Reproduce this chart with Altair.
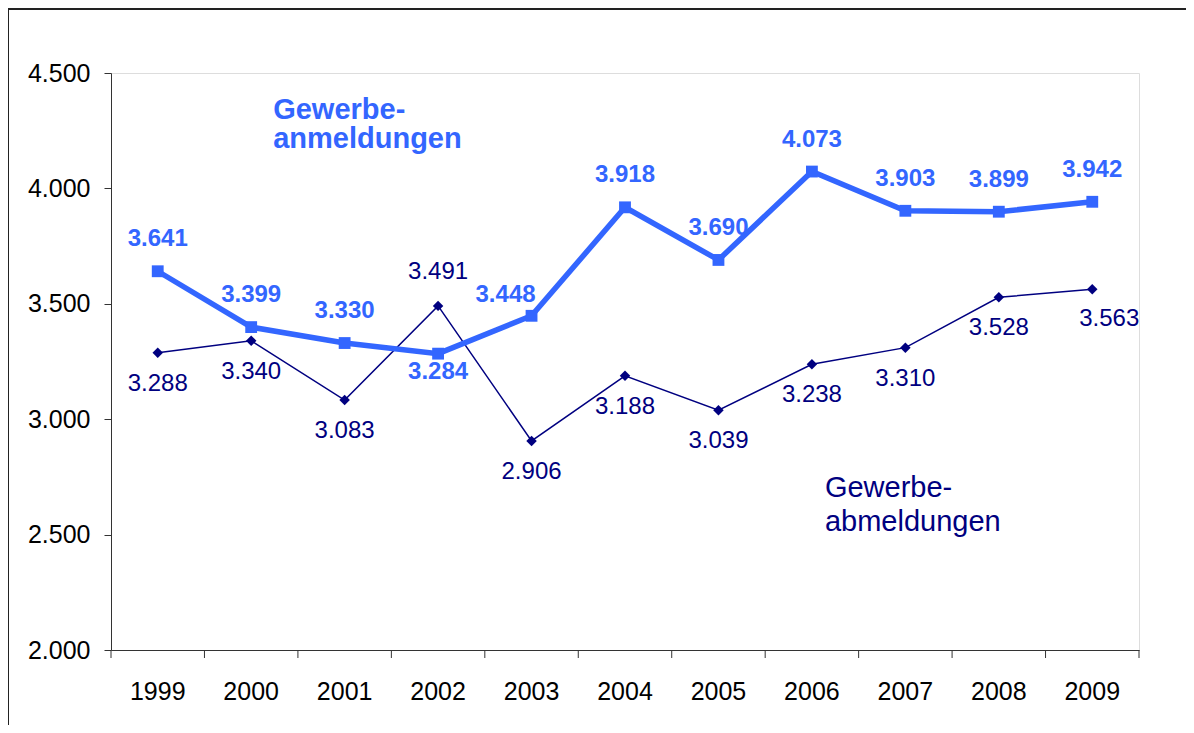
import altair as alt
import pandas as pd

# ---- data ----
years = [str(y) for y in range(1999, 2010)]
anmeldungen = [3641, 3399, 3330, 3284, 3448, 3918, 3690, 4073, 3903, 3899, 3942]
abmeldungen = [3288, 3340, 3083, 3491, 2906, 3188, 3039, 3238, 3310, 3528, 3563]
y_ticks = [2000, 2500, 3000, 3500, 4000, 4500]
label_an = "Gewerbe-\nanmeldungen"
label_ab = "Gewerbe-\nabmeldungen"

BLUE = "#3366FF"
NAVY = "#000080"
AXIS = "#333333"
FONT = "Liberation Sans"
W, H = 1028, 577


def de(v):
    return f"{v:,}".replace(",", ".")


df = pd.DataFrame({"Jahr": years, "An": anmeldungen, "Ab": abmeldungen})
df["An_lbl"] = [de(v) for v in anmeldungen]
df["Ab_lbl"] = [de(v) for v in abmeldungen]

x_enc = alt.X(
    "Jahr:O",
    scale=alt.Scale(type="band", paddingInner=0, paddingOuter=0),
    axis=alt.Axis(
        title=None, labelAngle=0, labelAlign="center", tickSize=8, tickOpacity=0,
        labelFontSize=25, labelPadding=33, labelFont=FONT, labelColor="black",
        domainColor=AXIS,
    ),
)
y_scale = alt.Scale(domain=[2000, 4500], nice=False, zero=False)
y_axis = alt.Axis(
    title=None, values=y_ticks, grid=False, tickSize=7,
    labelExpr="replace(format(datum.value, ',.0f'), ',', '.')",
    labelFontSize=25, labelPadding=14, labelFont=FONT, labelColor="black",
    domainColor=AXIS, tickColor=AXIS,
)

base = alt.Chart(df)

line_an = base.mark_line(color=BLUE, strokeWidth=5.5).encode(
    x=x_enc, y=alt.Y("An:Q", scale=y_scale, axis=y_axis))
pts_an = base.mark_point(shape="square", filled=True, size=140, color=BLUE, opacity=1).encode(
    x="Jahr:O", y="An:Q")
line_ab = base.mark_line(color=NAVY, strokeWidth=1.5).encode(x="Jahr:O", y="Ab:Q")
pts_ab = base.mark_point(shape="diamond", filled=True, size=110, color=NAVY, opacity=1).encode(
    x="Jahr:O", y="Ab:Q")

# x-axis ticks at the band boundaries
x_ticks = base.mark_rule(color=AXIS, strokeWidth=1).encode(
    x=alt.X("Jahr:O", bandPosition=0), y=alt.value(H), y2=alt.value(H + 8))
x_tick_end = alt.Chart(pd.DataFrame({"a": [0]})).mark_rule(color=AXIS, strokeWidth=1).encode(
    x=alt.value(W), y=alt.value(H), y2=alt.value(H + 8))

txt_common = dict(font=FONT, fontSize=24, baseline="middle", align="center")
lbl_an_above = base.transform_filter("datum.An >= datum.Ab && datum.Jahr != '2003'").mark_text(
    color=BLUE, fontWeight="bold", dy=-32, **txt_common).encode(x="Jahr:O", y="An:Q", text="An_lbl:N")
lbl_an_left = base.transform_filter("datum.Jahr == '2003'").mark_text(
    color=BLUE, fontWeight="bold", dx=-26, dy=-21, **txt_common).encode(x="Jahr:O", y="An:Q", text="An_lbl:N")
lbl_an_below = base.transform_filter("datum.An < datum.Ab").mark_text(
    color=BLUE, fontWeight="bold", dy=18, **txt_common).encode(x="Jahr:O", y="An:Q", text="An_lbl:N")
lbl_ab_below = base.transform_filter("datum.Ab < datum.An && datum.Jahr != '2009'").mark_text(
    color=NAVY, dy=31, **txt_common).encode(x="Jahr:O", y="Ab:Q", text="Ab_lbl:N")
lbl_ab_last = base.transform_filter("datum.Jahr == '2009'").mark_text(
    color=NAVY, dx=17, dy=30, **txt_common).encode(x="Jahr:O", y="Ab:Q", text="Ab_lbl:N")
lbl_ab_above = base.transform_filter("datum.Ab >= datum.An").mark_text(
    color=NAVY, dy=-34, **txt_common).encode(x="Jahr:O", y="Ab:Q", text="Ab_lbl:N")

ann_an = alt.Chart(pd.DataFrame({"Jahr": ["2000"], "v": [4301], "t": [label_an]})).mark_text(
    color=BLUE, fontWeight="bold", font=FONT, fontSize=29, align="left",
    baseline="alphabetic", dx=22, lineBreak="\n", lineHeight=29,
).encode(x="Jahr:O", y="v:Q", text="t:N")
ann_ab = alt.Chart(pd.DataFrame({"Jahr": ["2006"], "v": [2663], "t": [label_ab]})).mark_text(
    color=NAVY, font=FONT, fontSize=29, align="left",
    baseline="alphabetic", dx=13, lineBreak="\n", lineHeight=34,
).encode(x="Jahr:O", y="v:Q", text="t:N")

one = pd.DataFrame({"a": [0]})
frame_left = alt.Chart(one).mark_rule(color="#222222", strokeWidth=2).encode(
    x=alt.value(-103), y=alt.value(-65), y2=alt.value(H + 80))
frame_top = alt.Chart(one).mark_rule(color="#222222", strokeWidth=2).encode(
    x=alt.value(-104), x2=alt.value(W + 60), y=alt.value(-64))

chart = alt.layer(
    frame_left, frame_top,
    line_ab, pts_ab, line_an, pts_an,
    x_ticks, x_tick_end,
    lbl_an_above, lbl_an_left, lbl_an_below, lbl_ab_below, lbl_ab_last, lbl_ab_above,
    ann_an, ann_ab,
).properties(
    width=W, height=H,
    autosize=alt.AutoSizeParams(type="none"),
    padding={"left": 103, "top": 65, "right": 47, "bottom": 75},
).configure_view(stroke=None).configure(background="white")

chart.save("out.html", embed_options={"renderer": "svg", "actions": False})
